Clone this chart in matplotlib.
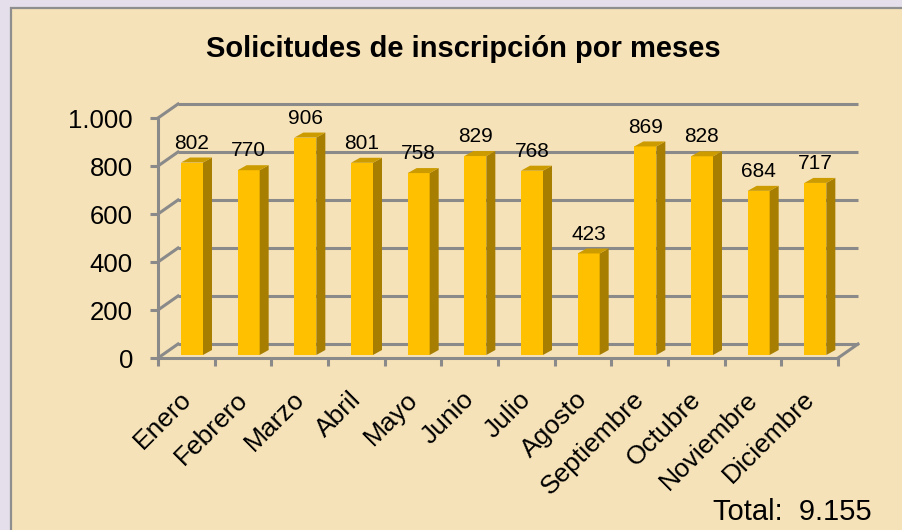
import numpy as np
import matplotlib
matplotlib.use("Agg")
import matplotlib.pyplot as plt
from matplotlib.patches import Rectangle, Polygon
import matplotlib.transforms as mtransforms

plt.rcParams['font.family'] = ['Liberation Sans', 'DejaVu Sans']

meses = ['Enero', 'Febrero', 'Marzo', 'Abril', 'Mayo', 'Junio', 'Julio',
         'Agosto', 'Septiembre', 'Octubre', 'Noviembre', 'Diciembre']
solicitudes = [802, 770, 906, 801, 758, 829, 768, 423, 869, 828, 684, 717]
y_ticks = [0, 200, 400, 600, 800, 1000]
titulo = 'Solicitudes de inscripción por meses'

W, H = 903, 530
fig = plt.figure(figsize=(W / 100, H / 100), dpi=100)
fig.patch.set_facecolor('#E4DFEB')

# panel beige con borde gris
fig.patches.append(Rectangle((11 / W, -0.05), 1.0, 1 - 8 / H + 0.05,
                             transform=fig.transFigure, facecolor='#F6E2B8',
                             edgecolor='#8E8E8E', linewidth=1.6, zorder=-1))

# plano frontal del grafico
ax = fig.add_axes([158 / W, 172 / H, 680 / W, 240 / H])
ax.set_zorder(1)
ax.set_facecolor('none')
ax.set_xlim(0, 12)
ax.set_ylim(0, 1000)

px_x = 680 / 12      # px por categoria
px_y = 240 / 1000    # px por unidad
DX, DY = 20 / px_x, 14 / px_y          # profundidad de la pared
sdx, sdy = 9 / px_x, 5 / px_y          # profundidad de la barra
gris = '#8A8A8A'
lw = 2.2

# pared de fondo y lateral
for v in y_ticks:
    ax.plot([DX, 12 + DX], [v + DY, v + DY], color=gris, lw=lw,
            clip_on=False, zorder=1, solid_capstyle='butt')
    ax.plot([0, DX], [v, v + DY], color=gris, lw=lw, clip_on=False, zorder=1)
ax.plot([12, 12 + DX], [0, DY], color=gris, lw=lw, clip_on=False, zorder=1)

# barras pseudo 3D
bw = 22 / px_x
base = 3 / px_y
for i, val in enumerate(solicitudes):
    xl = i + 23 / px_x
    top = base + val
    ax.add_patch(Rectangle((xl, base), bw, val, facecolor='#FFC000',
                           edgecolor='none', zorder=3, clip_on=False))
    ax.add_patch(Polygon([(xl + bw, base), (xl + bw + sdx, base + sdy),
                          (xl + bw + sdx, top + sdy), (xl + bw, top)],
                         closed=True, facecolor='#A87E00', edgecolor='none',
                         zorder=3, clip_on=False))
    ax.add_patch(Polygon([(xl, top), (xl + bw, top), (xl + bw + sdx, top + sdy),
                          (xl + sdx, top + sdy)],
                         closed=True, facecolor='#CC9B00', edgecolor='none',
                         zorder=3, clip_on=False))
    ax.annotate(str(val), (xl + bw / 2, top), xytext=(0, 10),
                textcoords='offset points', ha='center', va='baseline',
                fontsize=15, zorder=4, annotation_clip=False)

# ejes
for s in ['top', 'right']:
    ax.spines[s].set_visible(False)
for s in ['left', 'bottom']:
    ax.spines[s].set_color(gris)
    ax.spines[s].set_linewidth(lw)
    ax.spines[s].set_zorder(5)

ax.set_yticks(y_ticks)
ax.set_yticklabels([f'{v:,}'.replace(',', '.') for v in y_ticks])
ax.tick_params(axis='y', length=6, width=lw, color=gris, labelsize=18.5, pad=12)

ax.set_xticks(np.arange(13), minor=True)
ax.set_xticks(np.arange(12) + 0.5)
ax.set_xticklabels(meses, rotation=45, ha='right', va='center',
                   rotation_mode='anchor', fontsize=19)
ax.tick_params(axis='x', which='major', length=0, pad=27)
ax.tick_params(axis='x', which='minor', length=6, width=lw, color=gris)
off = mtransforms.ScaledTranslation(1 / 100, 0, fig.dpi_scale_trans)
for lab in ax.get_xticklabels():
    lab.set_transform(lab.get_transform() + off)

fig.text(463.5 / W, 1 - 57 / H, titulo, ha='center', va='baseline',
         fontsize=21, fontweight='bold')
total = sum(solicitudes)
fig.text(872 / W, 1 - 520 / H, 'Total:  ' + f'{total:,}'.replace(',', '.'),
         ha='right', va='baseline', fontsize=21)

fig.savefig('out.png', dpi=100, facecolor=fig.get_facecolor())
